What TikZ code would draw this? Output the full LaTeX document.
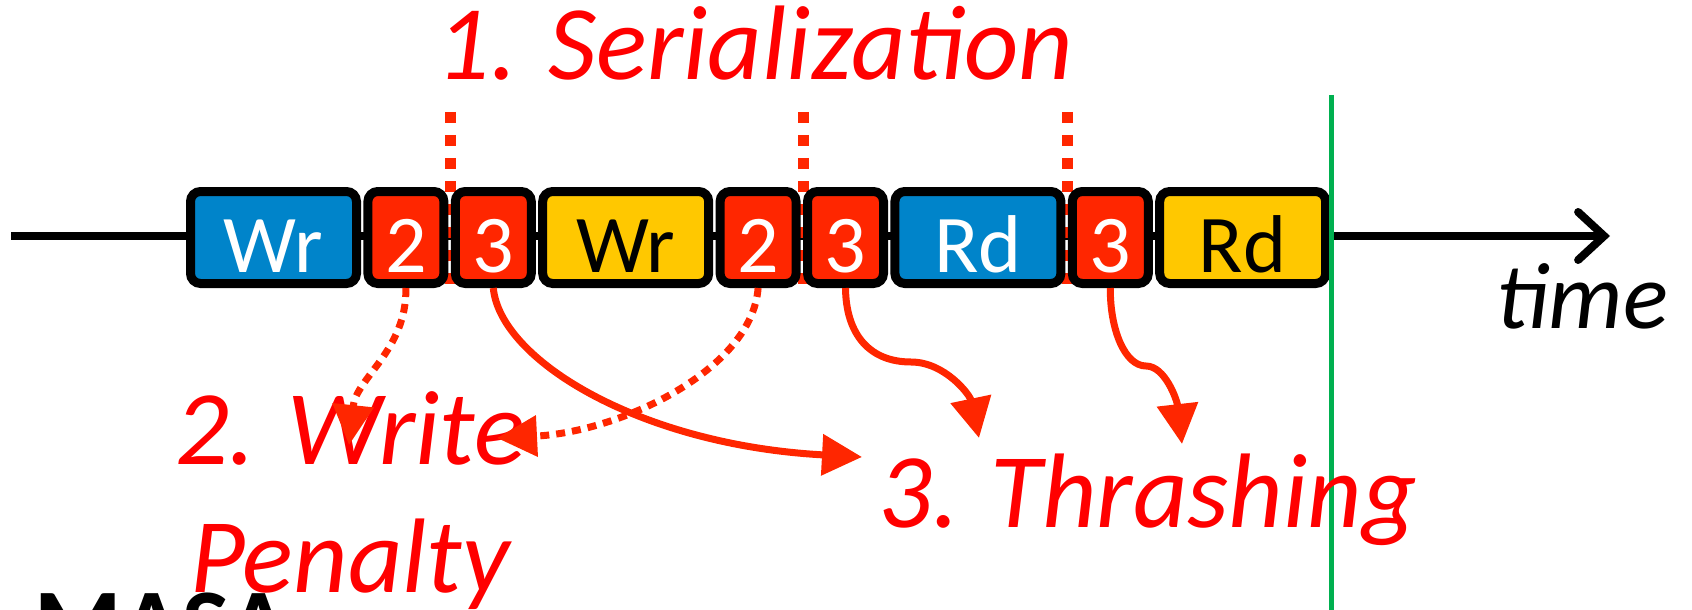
\documentclass[tikz,border=0pt]{standalone}
\usepackage{fontspec}
\setmainfont{Carlito}
\usetikzlibrary{arrows.meta,positioning,backgrounds}
\definecolor{azul}{RGB}{0,132,202}
\definecolor{amarillo}{RGB}{255,200,0}
\definecolor{rojo}{RGB}{255,38,0}
\definecolor{rojot}{RGB}{255,0,0}
\definecolor{verde}{RGB}{0,176,80}
\tikzset{
  slot/.style={draw=black, line width=4.5pt, rounded corners=5pt, inner sep=0pt, minimum height=46pt,
    text height=34.5pt, text depth=0pt, font=\fontsize{41}{41}\selectfont},
  largo/.style={slot, minimum width=83pt},
  corto/.style={slot, minimum width=38pt, fill=rojo, text=white},
  azulb/.style={largo, fill=azul, text=white},
  amar/.style={largo, fill=amarillo, text=black},
  lbl/.style={text=rojot, inner sep=0pt, font=\fontsize{53}{64}\selectfont\itshape},
  eje/.style={line width=4pt, -{Straight Barb[length=13pt, width=24pt, line cap=round]}},
  ser/.style={rojo, line width=5.5pt, dash pattern=on 5.5pt off 6pt},
  fl/.style={-{Triangle[length=20pt, width=20pt]}, line width=3.5pt, rojo},
  fldot/.style={fl, dash pattern=on 4.5pt off 3.5pt},
}
\begin{document}
\begin{tikzpicture}[x=0.5pt, y=-0.5pt, node distance=1.2pt]
  \useasboundingbox (0,0) rectangle (1692,610);
  \clip (0,0) rectangle (1692,610);
  % slots on the time line
  \node[azulb] (wr1) at (273.5,237.5) {Wr};
  \node[corto, right=of wr1] (p2a) {2};
  \node[corto, right=of p2a] (p3a) {3};
  \node[amar, right=of p3a] (wr2) {Wr};
  \node[corto, right=of wr2] (p2b) {2};
  \node[corto, right=of p2b] (p3b) {3};
  \node[azulb, right=of p3b] (rd1) {Rd};
  \node[corto, right=of rd1] (p3c) {3};
  \node[amar, right=of p3c] (rd2) {Rd};
  % axis and serialization marks behind the slots
  \begin{scope}[on background layer]
    \coordinate (t0) at (11,236);
    \coordinate (t1) at (1610,236);
    \draw[eje] (t0) -- (t1);
    \foreach \n in {p3a,p3b,p3c}
      \draw[ser] (\n.west |- 0,112) -- (\n.west |- 0,292);
  \end{scope}
  \coordinate (g0) at (1331,95);
  \coordinate (g1) at (1331,615);
  \draw[verde, line width=2.5pt] (g0) -- (g1);
  % labels
  \node[lbl, anchor=base west] (seri) at (436,80) {1. Serialization};
  \node[lbl, anchor=base, align=center] (wpen) at (350,592) {2. Write\\Penalty};
  \node[lbl, anchor=base west] (thr) at (878,527) {3. Thrashing};
  \node[inner sep=0pt, anchor=base west, font=\fontsize{47}{47}\selectfont\itshape] (tiempo) at (1496,328) {time};
  \node[inner sep=0pt, anchor=base west, font=\fontsize{50}{50}\selectfont\bfseries] (masa) at (34,658) {MASA};
  % write penalty and thrashing arrows
  \coordinate (h1) at (349,445);
  \coordinate (h2) at (497,438);
  \coordinate (h3) at (862,457);
  \coordinate (h4) at (979,438);
  \coordinate (h5) at (1182,444);
  \draw[fldot] (p2a.south) .. controls (407,350) and (356,378) .. (h1);
  \draw[fldot] (p2b.south) .. controls (752,370) and (620,432) .. (h2);
  \draw[fl] (p3a.south) .. controls (500,360) and (640,445) .. (h3);
  \draw[fl] (p3b.south) .. controls (846,335) and (870,362) .. (911,362)
    .. controls (945,362) and (970,395) .. (h4);
  \draw[fl] (p3c.south) .. controls (1110,330) and (1125,366) .. (1146,366)
    .. controls (1165,366) and (1177,400) .. (h5);
\end{tikzpicture}
\end{document}
